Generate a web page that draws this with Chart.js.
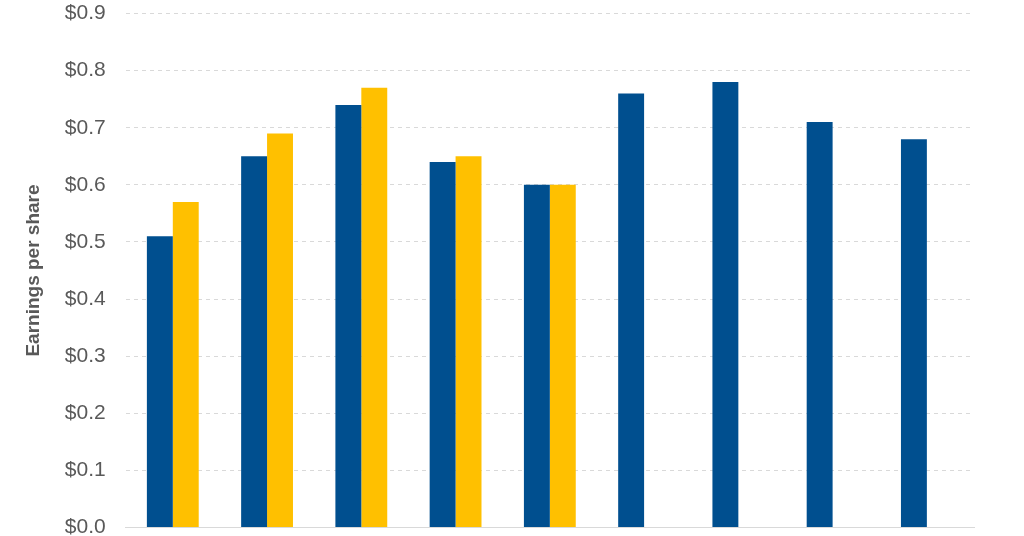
<!DOCTYPE html>
<html>
<head>
<meta charset="utf-8">
<script src="https://cdn.jsdelivr.net/npm/chart.js@4"></script>
<style>
  html, body { margin: 0; padding: 0; background: #fff; overflow: hidden; }
  #frame { position: relative; width: 1024px; height: 536px; overflow: hidden; }
  /* canvas runs past the frame so the edge labels may be clipped like the reference */
  #wrap { position: absolute; left: 0; top: -19px; width: 1024px; height: 579px; }
</style>
</head>
<body>
<div id="frame"><div id="wrap"><canvas id="epsChart"></canvas></div></div>
<script>
const categories = ['1', '2', '3', '4', '5', '6', '7', '8', '9'];
const epsActual = [0.51, 0.65, 0.74, 0.64, 0.60, 0.76, 0.78, 0.71, 0.68];
const epsSecond = [0.57, 0.69, 0.77, 0.65, 0.60, null, null, null, null];
const yTicks = [0, 0.1, 0.2, 0.3, 0.4, 0.5, 0.6, 0.7, 0.8, 0.9];

const txt = '#595959';

new Chart(document.getElementById('epsChart'), {
  type: 'bar',
  data: {
    labels: categories,
    datasets: [
      { label: 'Series 1', data: epsActual, backgroundColor: '#004f8f', categoryPercentage: 0.55, barPercentage: 1.0 },
      { label: 'Series 2', data: epsSecond, backgroundColor: '#ffc000', categoryPercentage: 0.55, barPercentage: 1.0 }
    ]
  },
  options: {
    responsive: true,
    maintainAspectRatio: false,
    animation: false,
    layout: { padding: { top: 0, right: 50, bottom: 0, left: 22 } },
    plugins: { legend: { display: false }, tooltip: { enabled: false } },
    scales: {
      x: {
        grid: { display: false },
        border: { display: true, color: '#d9d9d9', width: 1 },
        ticks: { display: false }
      },
      y: {
        min: 0,
        max: 0.9,
        afterBuildTicks: (axis) => { axis.ticks = yTicks.map((v) => ({ value: v })); },
        grid: { color: '#d9d9d9', drawTicks: false, lineWidth: 1 },
        border: { display: false, dash: [4, 4] },
        ticks: {
          padding: 20,
          color: txt,
          font: { family: 'Liberation Sans, Arial, sans-serif', size: 21 },
          callback: (v) => '$' + Number(v).toFixed(1)
        },
        title: {
          display: true,
          text: 'Earnings per share',
          color: txt,
          padding: { top: 0, bottom: 0 },
          font: { family: 'Liberation Sans, Arial, sans-serif', size: 19, weight: 'bold' }
        }
      }
    }
  }
});
</script>
</body>
</html>
